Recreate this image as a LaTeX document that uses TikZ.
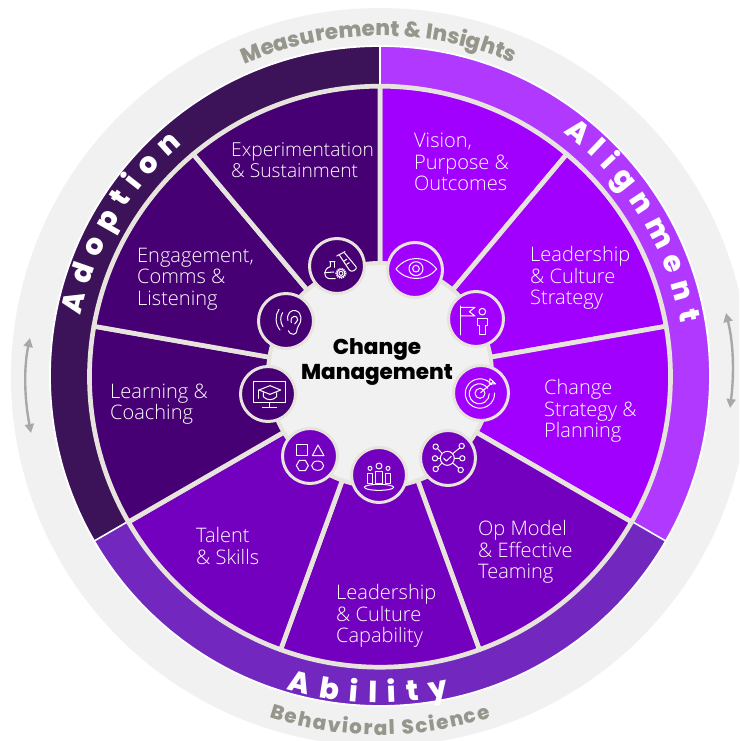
\documentclass[tikz,border=0pt]{standalone}
\usepackage{fontspec}
\usetikzlibrary{decorations.text,arrows.meta}
\setmainfont{Open Sans}[UprightFont=* Light]
\newfontfamily\heavy{Poppins ExtraBold}
\definecolor{bright}{HTML}{A100FF}
\definecolor{midp}{HTML}{7300BE}
\definecolor{darkp}{HTML}{460073}
\definecolor{ringA}{HTML}{B038FF}
\definecolor{ringB}{HTML}{7228BE}
\definecolor{ringC}{HTML}{3C1258}
\definecolor{beige}{HTML}{E6E4DD}
\definecolor{pale}{HTML}{F1F1F1}
\definecolor{greyt}{HTML}{96968C}
\definecolor{greya}{HTML}{A8A8A8}
\tikzset{
 wedge/.style={draw=beige,line width=4.7pt,line join=round},
 ringseg/.style={draw=white,line width=1.8pt},
 iconc/.style={circle,draw=beige,line width=3pt,minimum size=55pt,inner sep=0pt},
 lbl/.style={text=white,align=left,anchor=west,inner sep=0pt,font=\fontsize{20}{21.5}\selectfont},
 ico/.style={draw=white,line width=1pt,line join=round,line cap=round},
 ringtxt/.style={decorate,decoration={text along path,text color=white,text align={fit to path},
   text={|\heavy\fontsize{29}{29}\selectfont|#1}}},
 greytxt/.style={decorate,decoration={text along path,text color=greyt,text align={fit to path},
   text={|\heavy\fontsize{21.5}{21.5}\selectfont|#1}}},
 greytxtb/.style={decorate,decoration={text along path,text color=greyt,text align={fit to path},
   text={|\heavy\fontsize{20}{20}\selectfont|#1}}},
 dbl/.style={draw=greya,line width=2.4pt,{Triangle[length=9pt,width=9pt]}-{Triangle[length=9pt,width=9pt]}},
}
\begin{document}
\begin{tikzpicture}[x=1pt,y=1pt]
\useasboundingbox (-380,-365) rectangle (359,376);
\clip (-380,-365) rectangle (359,376);
\fill[pale] (0,-1) circle (369);
% outer ring
\fill[ringA] (0,0) -- (90:330) arc[start angle=90,end angle=-30,radius=330] -- cycle;
\fill[ringB] (0,0) -- (-30:330) arc[start angle=-30,end angle=-150,radius=330] -- cycle;
\fill[ringC] (0,0) -- (210:330) arc[start angle=210,end angle=90,radius=330] -- cycle;
\draw[ringseg] (0,0) circle (330);
\foreach \a in {90,-30,-150} \draw[white,line width=1.6pt] (\a:290) -- (\a:330);
% wedges
\begin{scope}[shift={(0,-.7)}]
\foreach \a/\c in {90/bright,50/bright,10/bright,-30/midp,-70/midp,-110/midp,-150/darkp,-190/darkp,-230/darkp}{
  \filldraw[wedge,fill=\c] (0,0) -- (\a:290.5) arc[start angle=\a,delta angle=-40,radius=290.5] -- cycle;
}
\end{scope}
% hub
\node[circle,fill=pale,draw=beige,line width=4pt,minimum size=224pt,inner sep=0pt] (hub) at (0,1) {};
\node[font=\heavy\fontsize{21.5}{25}\selectfont,align=center,text=black,inner sep=0pt] (title) at (-3,14) {Change\\Management};
% icon discs
\node[iconc,fill=bright] (i1) at (35,106) {};
\node[iconc,fill=bright] (i2) at (96,57) {};
\node[iconc,fill=bright] (i3) at (101,-17) {};
\node[iconc,fill=midp] (i4) at (68,-82) {};
\node[iconc,fill=midp] (i5) at (-1,-99) {};
\node[iconc,fill=midp] (i6) at (-70,-80) {};
\node[iconc,fill=darkp] (i7) at (-112,-18) {};
\node[iconc,fill=darkp] (i8) at (-94,55) {};
\node[iconc,fill=darkp] (i9) at (-43,110) {};
% icons (coordinates in a 3x grid of the area around the hub)
\begin{scope}[shift={(-150,156)},x=.33333pt,y=-.33333pt]
 % eye
 \draw[ico] (498,147) .. controls (530,105) and (588,105) .. (620,147) .. controls (588,185) and (530,185) .. (498,147) -- cycle;
 \draw[ico] (558,146) circle (21);
 \draw[ico] (558,146) circle (10);
 % flag + person
 \draw[ico] (692,345) -- (692,258);
 \draw[ico] (692,262) -- (735,262) -- (718,275) -- (735,288) -- (692,288);
 \draw[ico] (757,275) circle (10);
 \draw[ico] (742,297) -- (773,297) -- (773,318) -- (767,318) -- (767,345) -- (750,345) -- (750,318) -- (742,318) -- cycle;
 % target
 \draw[ico] (785,494) arc[start angle=-37,delta angle=-325,radius=44];
 \draw[ico] (773,505) arc[start angle=-33,delta angle=-327,radius=30];
 \draw[ico] (750,520) circle (15);
 \draw[ico] (752,518) -- (790,485);
 \draw[ico] (778,492) -- (780,476) -- (789,484) -- (797,492) -- (780,492);
 % network
 \draw[ico] (652,715) circle (21);
 \draw[ico] (641,715) -- (649,723) -- (664,709);
 \foreach \p/\q in {617/680,695/678,615/715,697/715,617/747,692/750}{\draw[ico] (\p,\q) circle (8);}
 \draw[ico] (623,686) -- (636,700) (689,684) -- (668,701) (623,715) -- (631,715) (689,715) -- (673,715) (623,742) -- (636,729) (686,744) -- (668,729);
 % people
 \draw[ico] (420,745) circle (6) (447,738) circle (9) (474,745) circle (6);
 \draw[ico] (413,790) -- (413,760) -- (427,760) -- (427,790) -- cycle;
 \draw[ico] (437,790) -- (437,755) -- (457,755) -- (457,790) -- cycle;
 \draw[ico] (467,790) -- (467,760) -- (481,760) -- (481,790) -- cycle;
 \draw[ico] (447,802) ellipse (44 and 9);
 % shapes
 \draw[ico] (200,675) rectangle (232,707);
 \draw[ico] (247,707) -- (282,707) -- (264,675) -- cycle;
 \draw[ico] (199,737) -- (208,721) -- (226,721) -- (235,737) -- (226,752) -- (208,752) -- cycle;
 \draw[ico] (263,737) ellipse (18 and 14);
 % screen + cap
 \draw[ico] (72,486) rectangle (168,548);
 \draw[ico] (118,548) -- (118,562) (97,562) -- (140,562);
 \draw[ico] (87,510) -- (120,497) -- (152,510) -- (120,523) -- cycle;
 \draw[ico] (100,518) -- (100,530) .. controls (110,542) and (130,542) .. (140,530) -- (140,518);
 \draw[ico] (87,510) -- (87,535);
 % ear
 \draw[ico] (174,302) .. controls (168,280) and (185,268) .. (197,272) .. controls (218,278) and (216,305) .. (205,318) .. controls (198,328) and (204,342) .. (190,343) .. controls (180,344) and (178,336) .. (175,332);
 \draw[ico] (184,308) .. controls (178,285) and (205,283) .. (203,300) .. controls (202,306) and (196,306) .. (194,312);
 \draw[ico] (147,268) .. controls (135,285) and (135,312) .. (150,330);
 \draw[ico] (158,278) .. controls (150,290) and (150,306) .. (159,320);
 % flask + tube + gear
 \draw[ico] (320,108) -- (345,95);
 \draw[ico] (328,105) -- (358,150) .. controls (364,160) and (384,148) .. (378,140) -- (343,98);
 \draw[ico] (350,118) -- (342,123) (358,128) -- (350,133);
 \draw[ico] (299,125) -- (315,125) (301,125) -- (301,140) .. controls (280,146) and (278,172) .. (298,176) -- (316,176);
 \draw[ico] (313,125) -- (313,142);
 \draw[ico] (286,158) -- (312,156);
 \draw[ico] (333,160) circle (6);
 \draw[ico,densely dotted,line width=2pt,line cap=butt] (333,160) circle (14);
 \draw[ico] (333,160) circle (12);
\end{scope}
% labels
\node[lbl] (t1) at (34,214) {Vision,\\Purpose \&\\Outcomes};
\node[lbl] (t2) at (150,98) {Leadership\\\& Culture\\Strategy};
\node[lbl] (t3) at (164,-35) {Change\\Strategy \&\\Planning};
\node[lbl] (t4) at (98,-176) {Op Model\\\& Effective\\Teaming};
\node[lbl] (t5) at (-44,-240) {Leadership\\\& Culture\\Capability};
\node[lbl] (t6) at (-184,-170) {Talent\\\& Skills};
\node[lbl] (t7) at (-270,-28) {Learning \&\\Coaching};
\node[lbl] (t8) at (-243,97) {Engagement,\\Comms \&\\Listening};
\node[lbl,font=\fontsize{19.2}{20.5}\selectfont] (t9) at (-149,216) {Experimentation\\\& Sustainment};
% curved titles
\path[ringtxt={Alignment}] (53:305) arc[start angle=53,end angle=10,radius=305];
\path[ringtxt={Adoption}] (168.5:305) arc[start angle=168.5,end angle=130.5,radius=305];
\path[ringtxt={Ability}] (253.4:327) arc[start angle=253.4,end angle=282.2,radius=327];
\path[greytxt={Measurement {\&} Insights}] (113.5:340) arc[start angle=113.5,end angle=67,radius=340];
\path[greytxtb={Behavioral Science}] (252:359) arc[start angle=252,end angle=288,radius=359];
% double arrows
\coordinate (ra) at (346,63);
\coordinate (rb) at (350,-32);
\coordinate (la) at (-350,38);
\coordinate (lb) at (-349,-57);
\draw[dbl] (ra) .. controls (354,30) and (354,0) .. (rb);
\draw[dbl] (la) .. controls (-356,10) and (-356,-20) .. (lb);
\end{tikzpicture}
\end{document}
